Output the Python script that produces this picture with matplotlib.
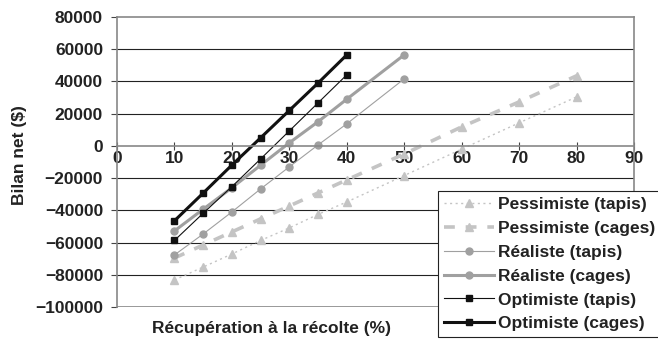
import matplotlib
matplotlib.use('Agg')
import matplotlib.pyplot as plt

plt.rcParams['font.family'] = ['Liberation Sans', 'DejaVu Sans']
plt.rcParams['font.weight'] = 'bold'

# recuperation a la recolte (%)
x_short = [10, 15, 20, 25, 30, 35, 40]
x_real = [10, 15, 20, 25, 30, 35, 40, 50]
x_pess = [10, 15, 20, 25, 30, 35, 40, 50, 60, 70, 80]

# bilan net ($)
pess_tapis = [-83200, -75200, -67100, -58700, -50900, -42500, -34800, -18400, -2000, 14300, 30400]
pess_cages = [-69600, -61500, -53400, -45300, -37300, -29200, -21100, -5000, 11800, 27300, 43500]
real_tapis = [-67700, -54700, -41000, -26700, -13000, 600, 13700, 41600]
real_cages = [-52800, -39300, -26000, -12000, 1900, 15000, 29000, 56500]
opt_tapis = [-58700, -41800, -25300, -8100, 9300, 26700, 44100]
opt_cages = [-46500, -29300, -11900, 5000, 22000, 39000, 56500]

fs = 12.5

fig = plt.figure(figsize=(6.58, 3.43), dpi=100)
ax = fig.add_axes([117 / 658, 1 - 307 / 343, 517 / 658, 290 / 343])

light = '#c4c4c4'
mid = '#a0a0a0'
dark = '#111111'

ax.plot(x_pess, pess_tapis, color=light, lw=1.0, ls=(0, (1.5, 2.5)),
        marker='^', ms=6, mec=light, mfc=light, label='Pessimiste (tapis)')
ax.plot(x_pess, pess_cages, color=light, lw=2.6, ls=(0, (3, 3)),
        marker='^', ms=6, mec=light, mfc=light, label='Pessimiste (cages)')
ax.plot(x_real, real_tapis, color=mid, lw=0.8,
        marker='o', ms=5, mec=mid, mfc=mid, label='Réaliste (tapis)')
ax.plot(x_real, real_cages, color=mid, lw=2.2,
        marker='o', ms=5, mec=mid, mfc=mid, label='Réaliste (cages)')
ax.plot(x_short, opt_tapis, color=dark, lw=0.8,
        marker='s', ms=5, mec=dark, mfc=dark, label='Optimiste (tapis)')
ax.plot(x_short, opt_cages, color=dark, lw=2.2,
        marker='s', ms=5, mec=dark, mfc=dark, label='Optimiste (cages)')

ax.set_xlim(0, 90)
ax.set_ylim(-100000, 80000)
ax.set_xticks(range(0, 100, 10))
ax.set_yticks(range(-100000, 100000, 20000))

for yv in range(-80000, 80000, 20000):
    if yv != 0:
        ax.axhline(yv, color='#222222', lw=0.8, zorder=0)
ax.axhline(-100000, color='#888888', lw=1.2, zorder=0)

for side in ['top', 'right', 'left', 'bottom']:
    ax.spines[side].set_color('#888888')
    ax.spines[side].set_linewidth(1.2)
ax.spines['bottom'].set_position(('data', 0))

ax.tick_params(axis='y', direction='out', length=4, width=0.8, color='#444444',
               pad=6, labelsize=fs)
ax.tick_params(axis='x', direction='inout', length=6, width=0.8, color='#444444',
               pad=1, labelsize=fs)
for lab in ax.get_xticklabels() + ax.get_yticklabels():
    lab.set_fontweight('bold')
    lab.set_color('#222222')

fig.text(20 / 658, 1 - 155 / 343, 'Bilan net ($)', rotation=90, ha='center', va='center',
         fontsize=fs, fontweight='bold', color='#222222')
fig.text(272 / 658, 1 - 328 / 343, 'Récupération à la récolte (%)', ha='center', va='center',
         fontsize=fs, fontweight='bold', color='#222222')

leg = fig.legend(loc='upper left', bbox_to_anchor=(438 / 658, 1 - 191 / 343),
                 fontsize=fs, frameon=True, fancybox=False, framealpha=1,
                 edgecolor='#222222', handlelength=2.9, handletextpad=0.2,
                 labelspacing=0.5, borderpad=0.35, borderaxespad=0)
leg.get_frame().set_linewidth(0.8)
for t in leg.get_texts():
    t.set_fontweight('bold')
    t.set_color('#222222')

fig.savefig('out.png', dpi=100)
